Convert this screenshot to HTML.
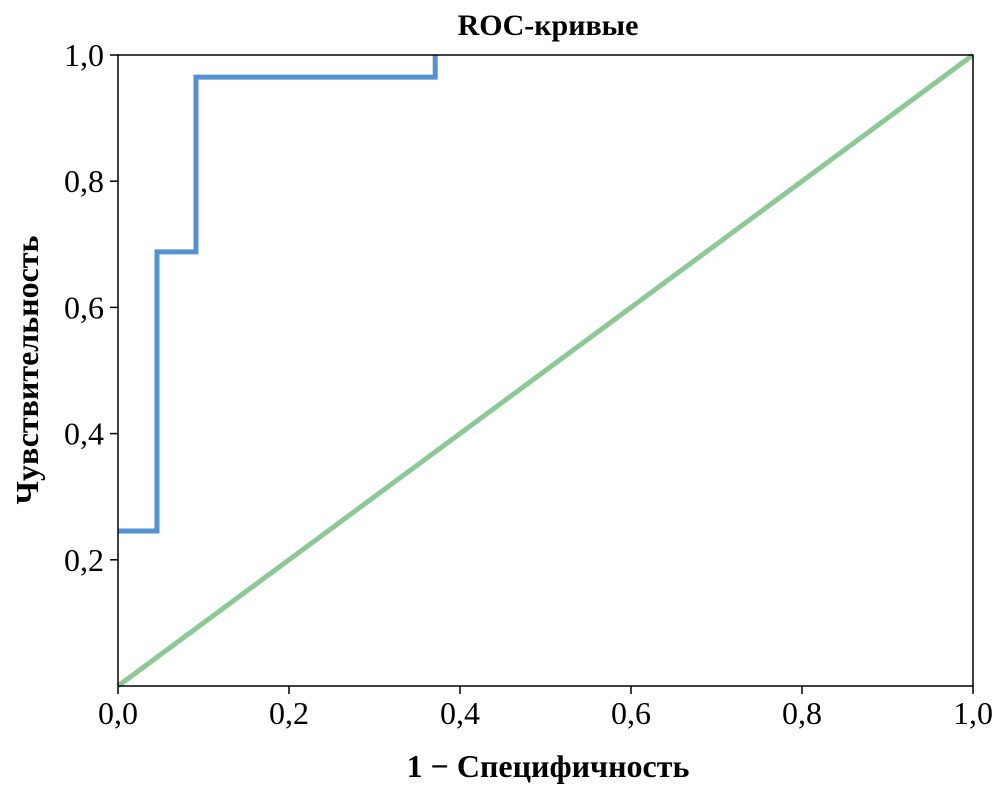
<!DOCTYPE html>
<html><head><meta charset="utf-8"><style>
body{margin:0;background:#fff}
svg{font-family:"Liberation Serif","DejaVu Serif",serif}
</style></head><body>
<svg width="1002" height="802" viewBox="0 0 1002 802">
<text x="548" y="35" text-anchor="middle" font-size="30" font-weight="bold">ROC-кривые</text>
<g id="plot"></g>
<text x="548" y="777" text-anchor="middle" font-size="32" font-weight="bold">1 − Специфичность</text>
<text transform="translate(38,370) rotate(-90)" text-anchor="middle" font-size="32" font-weight="bold">Чувствительность</text>
</svg>
<script>
const rocX=[0,0.0456,0.0456,0.0912,0.0912,0.371,0.371];
const rocY=[0.2456,0.2456,0.688,0.688,0.965,0.965,1.0];
const diagX=[0,1];
const diagY=[0,1];
const xTicks=[0,0.2,0.4,0.6,0.8,1.0];
const xTickLabels=["0,0","0,2","0,4","0,6","0,8","1,0"];
const yTicks=[0.2,0.4,0.6,0.8,1.0];
const yTickLabels=["0,2","0,4","0,6","0,8","1,0"];
const L=118,R=973,T=55,B=686;
const sx=v=>L+v*(R-L), sy=v=>B-v*(B-T);
const g=document.getElementById('plot');
const NS='http://www.w3.org/2000/svg';
function mk(t,a){const e=document.createElementNS(NS,t);for(const k in a)e.setAttribute(k,a[k]);g.appendChild(e);return e;}
let p=mk('polyline',{points:diagX.map((x,i)=>sx(x)+','+sy(diagY[i])).join(' '),fill:'none',stroke:'#8cc996','stroke-width':5});


p=mk('polyline',{points:rocX.map((x,i)=>sx(x)+','+sy(rocY[i])).join(' '),fill:'none',stroke:'#5592d2','stroke-width':5});


const f=mk('rect',{x:L,y:T,width:R-L,height:B-T,fill:'none',stroke:'#000','stroke-width':1.5});


xTicks.forEach((v,i)=>{
 const l=mk('line',{x1:sx(v),x2:sx(v),y1:B,y2:B+8,stroke:'#000','stroke-width':1.5});
 
 
 const t=mk('text',{x:sx(v),y:B+38,'text-anchor':'middle','font-size':32});
 t.textContent=xTickLabels[i];
 
 
});
yTicks.forEach((v,i)=>{
 const l=mk('line',{x1:L-8,x2:L,y1:sy(v),y2:sy(v),stroke:'#000','stroke-width':1.5});
 
 
 const t=mk('text',{x:L-14,y:sy(v)+11,'text-anchor':'end','font-size':32});
 t.textContent=yTickLabels[i];
 
 
});
</script>
</body></html>
